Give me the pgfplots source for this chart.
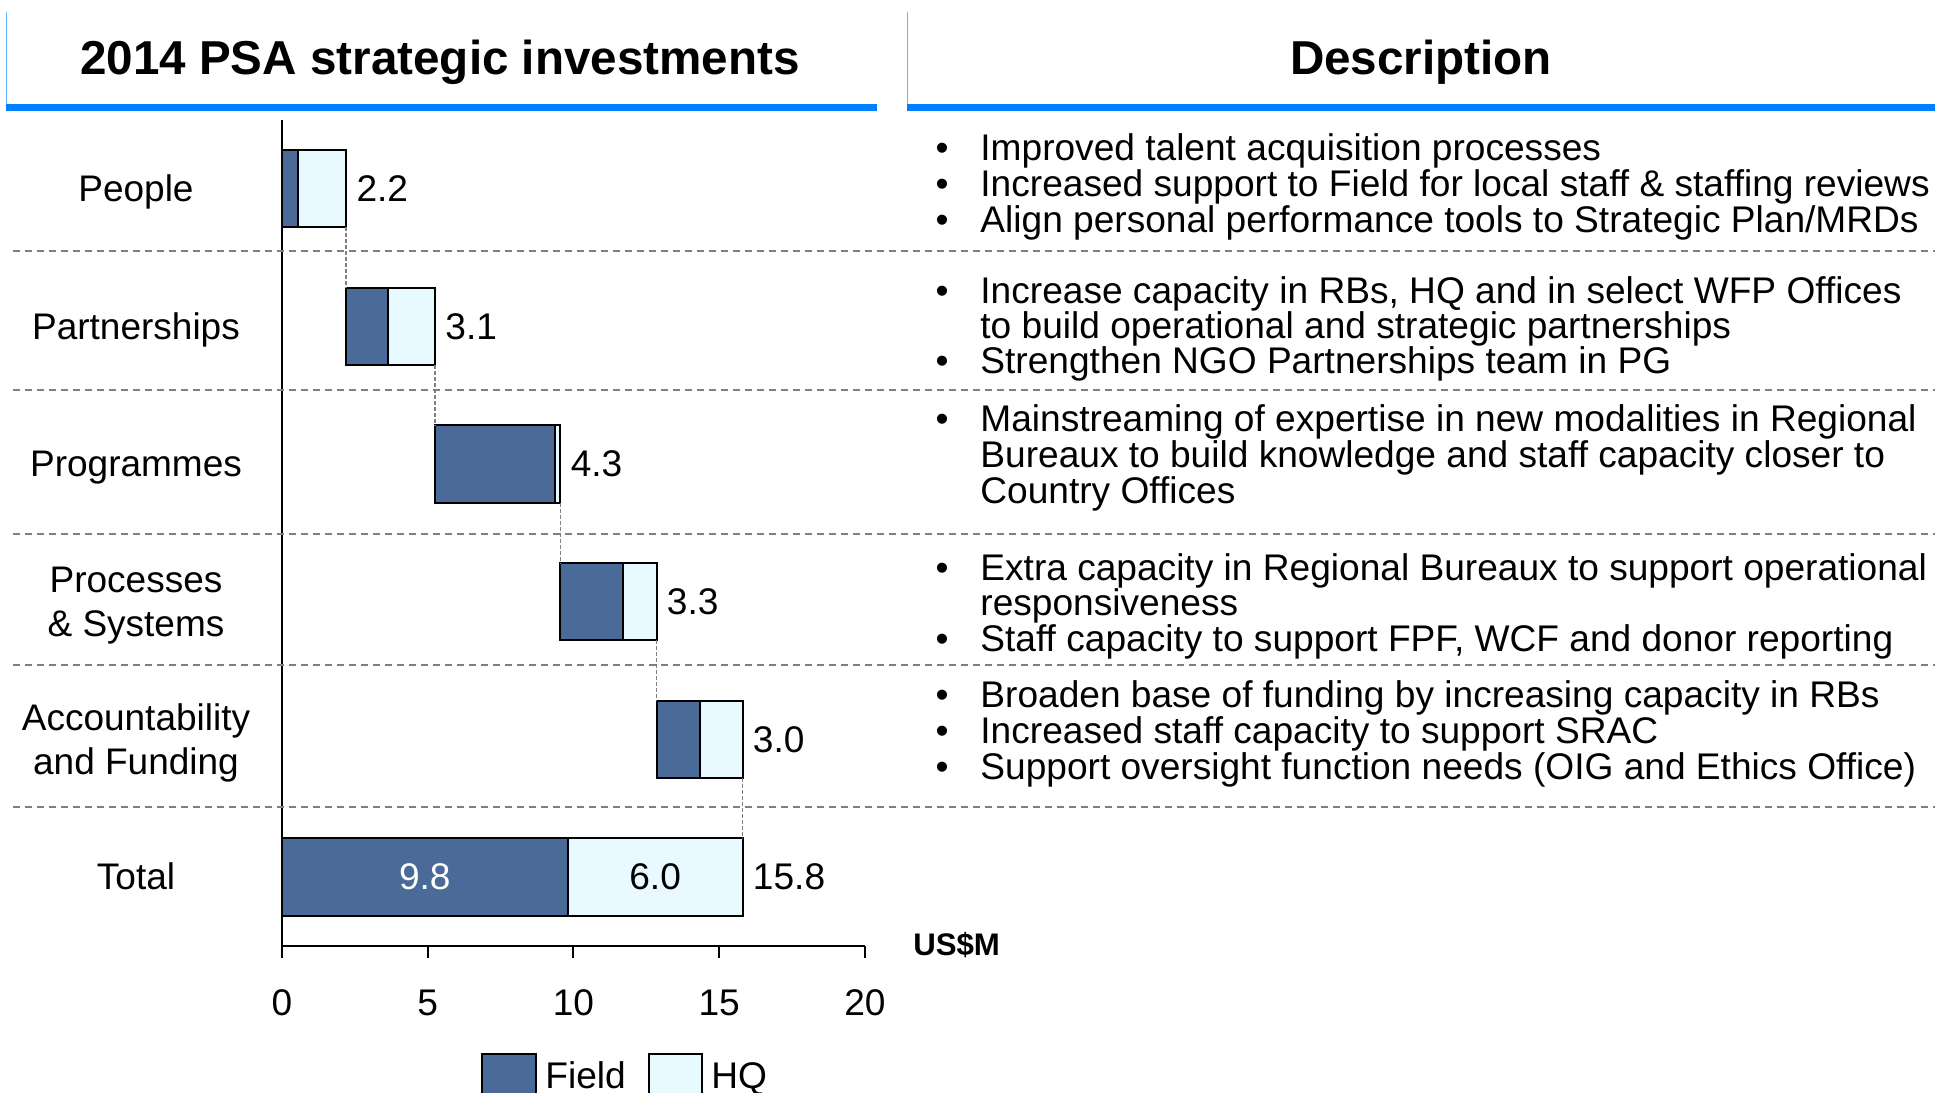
\documentclass[border=0pt]{standalone}
\usepackage{pgfplots}
\pgfplotsset{compat=1.18}
\usepackage{pgfplotstable}
\usepackage{fontspec}
\setmainfont{Liberation Sans}
\definecolor{fieldc}{RGB}{74,106,152}
\definecolor{hqc}{RGB}{232,250,255}
\definecolor{hdrblue}{RGB}{0,128,255}
\definecolor{sepgray}{RGB}{128,128,128}
\newcommand{\bodyfont}{\fontsize{18.55}{18}\selectfont}
\newcommand{\catfont}{\fontsize{18.5}{22}\selectfont}
\newcommand{\bl}[2]{%
  \node[anchor=base west, inner sep=0pt, font=\bodyfont] at (490pt, {(1093-#1)*0.5pt}) {#2};
  \node[anchor=base, inner sep=0pt, font=\bodyfont] at (471pt, {(1093-#1)*0.5pt}) {\textbullet};}
\newcommand{\cl}[2]{%
  \node[anchor=base west, inner sep=0pt, font=\bodyfont] at (490pt, {(1093-#1)*0.5pt}) {#2};}

\pgfplotstableread{
y  off    field  hq
5  0      0.55   1.65
4  2.2    1.45   1.6
3  5.25   4.1    0.2
2  9.55   2.15   1.15
1  12.85  1.5    1.45
0  0      9.8    6.0
}\bars

\begin{document}
\begin{tikzpicture}
\useasboundingbox (0,0) rectangle (967.5pt,546.5pt);
\clip (0,0) rectangle (967.5pt,546.5pt);
% headers
\fill[hdrblue] (3pt,491.2pt) rectangle (438.5pt,494.5pt);
\fill[hdrblue] (453.5pt,491.2pt) rectangle (967.5pt,494.5pt);
\draw[hdrblue!60, line width=0.5pt] (3pt,494.5pt) -- (3pt,540.5pt);
\draw[hdrblue!60, line width=0.5pt] (453.5pt,494.5pt) -- (453.5pt,540.5pt);
\node[anchor=base, inner sep=0pt, font=\fontsize{23.8}{28}\selectfont\bfseries] at (220pt,509pt) {2014 PSA strategic investments};
\node[anchor=base, inner sep=0pt, font=\fontsize{23.8}{28}\selectfont\bfseries] at (710.5pt,509pt) {Description};

\begin{axis}[
  at={(141pt,73.6pt)}, anchor=south west,
  scale only axis, width=291.5pt, height=413pt,
  xmin=0, xmax=20, ymin=-0.5, ymax=5.5,
  xbar stacked, bar width=0.56,
  axis x line=bottom, axis y line=left,
  axis line style={-, line width=1pt, black},
  xtick={0,5,10,15,20}, ytick={0,1,2,3,4,5},
  yticklabels={Total,
    {\raisebox{-11pt}{\begin{tabular}[b]{@{}c@{}}Accountability\\and Funding\end{tabular}}},
    {\raisebox{-11pt}{\begin{tabular}[b]{@{}c@{}}Processes\\\& Systems\end{tabular}}},
    Programmes, Partnerships, People},
  tick align=outside, major tick length=6pt,
  xtick style={line width=1pt, black},
  ytick style={draw=none},
  /pgf/number format/assume math mode=true,
  xticklabel style={font=\bodyfont, anchor=base, inner sep=0pt, yshift=-29pt},
  yticklabel style={font=\catfont, anchor=base, inner sep=0pt, xshift=-67pt, yshift=-6.5pt},
]
\addplot[draw=none, fill=none] table[x=off, y=y] \bars;
\addplot[fill=fieldc, draw=black, line width=1pt] table[x=field, y=y] \bars;
\addplot[fill=hqc, draw=black, line width=1pt] table[x=hq, y=y] \bars;
\end{axis}

\begin{axis}[
  at={(141pt,73.6pt)}, anchor=south west,
  scale only axis, width=291.5pt, height=413pt,
  xmin=0, xmax=20, ymin=-0.5, ymax=5.5,
  hide axis, clip=false,
]
% row separators
\draw[sepgray, line width=1pt, dash pattern=on 3.7pt off 2.3pt] (axis cs:-9.23,4.544) -- (axis cs:56.8,4.544);
\draw[sepgray, line width=1pt, dash pattern=on 3.7pt off 2.3pt] (axis cs:-9.23,3.539) -- (axis cs:56.8,3.539);
\draw[sepgray, line width=1pt, dash pattern=on 3.7pt off 2.3pt] (axis cs:-9.23,2.493) -- (axis cs:56.8,2.493);
\draw[sepgray, line width=1pt, dash pattern=on 3.7pt off 2.3pt] (axis cs:-9.23,1.541) -- (axis cs:56.8,1.541);
\draw[sepgray, line width=1pt, dash pattern=on 3.7pt off 2.3pt] (axis cs:-9.23,0.507) -- (axis cs:56.8,0.507);
% waterfall connectors
\addplot[sepgray, line width=0.8pt, dash pattern=on 2pt off 1pt] coordinates {(2.2,4.72) (2.2,4.28)};
\addplot[sepgray, line width=0.8pt, dash pattern=on 2pt off 1pt] coordinates {(5.25,3.72) (5.25,3.28)};
\addplot[sepgray, line width=0.8pt, dash pattern=on 2pt off 1pt] coordinates {(9.55,2.72) (9.55,2.28)};
\addplot[sepgray, line width=0.8pt, dash pattern=on 2pt off 1pt] coordinates {(12.85,1.72) (12.85,1.28)};
\addplot[sepgray, line width=0.8pt, dash pattern=on 2pt off 1pt] coordinates {(15.8,0.72) (15.8,0.28)};
% value labels
\addplot[draw=none, nodes near coords, point meta=explicit symbolic,
  nodes near coords style={anchor=base west, inner sep=0pt, xshift=5pt, yshift=-6.5pt, font=\bodyfont, text=black}]
  coordinates {(2.2,5)[2.2] (5.25,4)[3.1] (9.55,3)[4.3] (12.85,2)[3.3] (15.8,1)[3.0] (15.8,0)[15.8]};
\addplot[draw=none, nodes near coords, point meta=explicit symbolic,
  nodes near coords style={anchor=base, inner sep=0pt, yshift=-6.5pt, font=\bodyfont, text=white}]
  coordinates {(4.9,0)[9.8]};
\addplot[draw=none, nodes near coords, point meta=explicit symbolic,
  nodes near coords style={anchor=base, inner sep=0pt, yshift=-6.5pt, font=\bodyfont, text=black}]
  coordinates {(12.8,0)[6.0]};
\end{axis}

% unit label
\node[anchor=base, inner sep=0pt, font=\fontsize{15.6}{18}\selectfont\bfseries] at (478.3pt,68.5pt) {US\$M};

% legend
\draw[fill=fieldc, line width=1pt] (241pt,-8pt) rectangle (268pt,19.5pt);
\draw[fill=hqc, line width=1pt] (324.5pt,-8pt) rectangle (351pt,19.5pt);
\node[anchor=base west, inner sep=0pt, font=\bodyfont] at (272.5pt,2.2pt) {Field};
\node[anchor=base west, inner sep=0pt, font=\bodyfont] at (355.5pt,2.2pt) {HQ};

% descriptions
\bl{161}{Improved talent acquisition processes}
\bl{197}{Increased support to Field for local staff \& staffing reviews}
\bl{233}{Align personal performance tools to Strategic Plan/MRDs}
\bl{304}{Increase capacity in RBs, HQ and in select WFP Offices}
\cl{339}{to build operational and strategic partnerships}
\bl{374}{Strengthen NGO Partnerships team in PG}
\bl{432}{Mainstreaming of expertise in new modalities in Regional}
\cl{468}{Bureaux to build knowledge and staff capacity closer to}
\cl{504}{Country Offices}
\bl{581}{Extra capacity in Regional Bureaux to support operational}
\cl{616}{responsiveness}
\bl{652}{Staff capacity to support FPF, WCF and donor reporting}
\bl{708}{Broaden base of funding by increasing capacity in RBs}
\bl{744}{Increased staff capacity to support SRAC}
\bl{780}{Support oversight function needs (OIG and Ethics Office)}
\end{tikzpicture}
\end{document}
